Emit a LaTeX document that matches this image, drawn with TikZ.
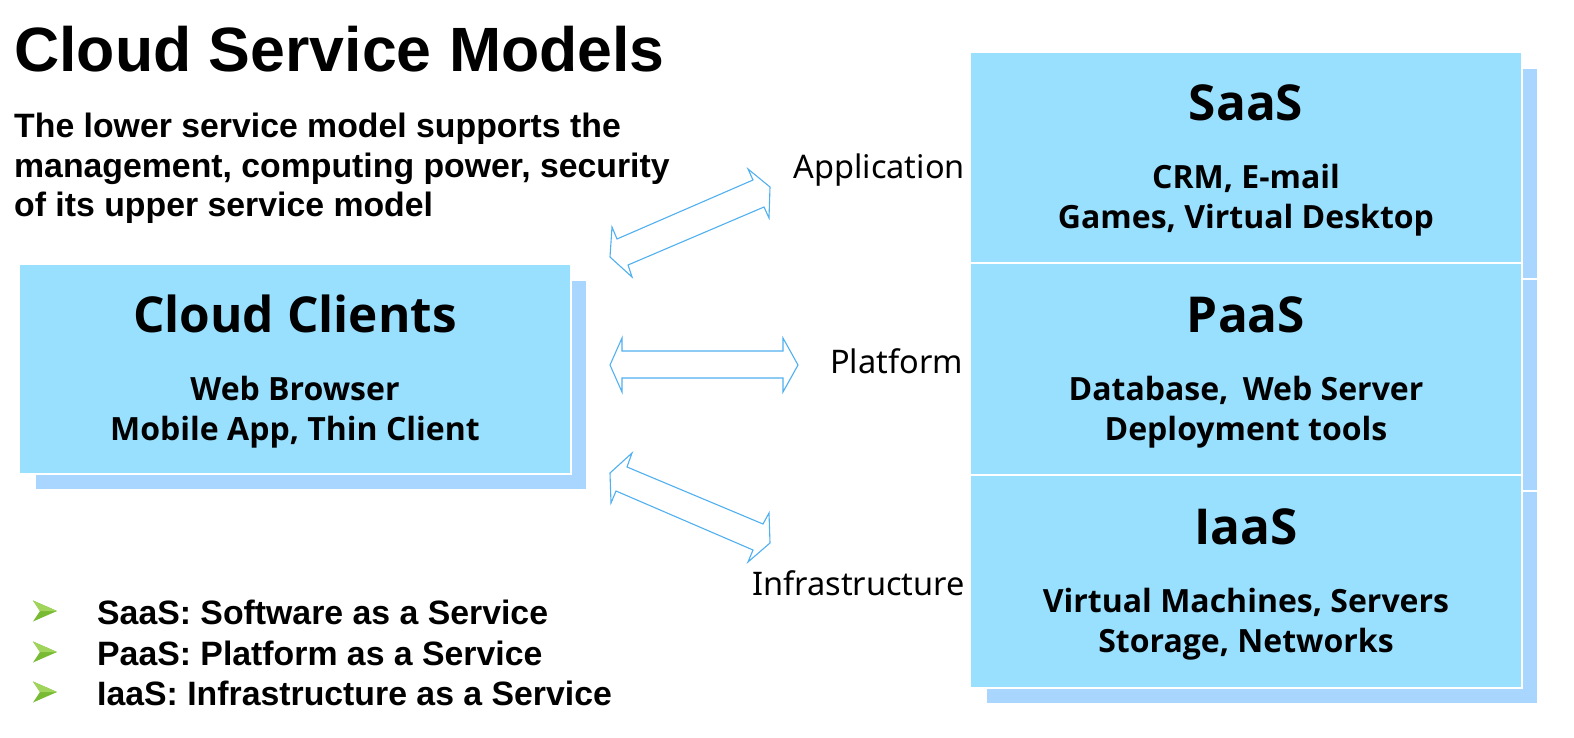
\documentclass[tikz,border=0pt]{standalone}
\usepackage{fontspec}
\setmainfont{Liberation Sans}
\newfontfamily\boxfont{Open Sans}
\newfontfamily\lblfont{Noto Sans}
\usetikzlibrary{shadows}
\definecolor{boxblue}{RGB}{153,224,255}
\definecolor{shadowblue}{RGB}{168,214,255}
\definecolor{arrowblue}{RGB}{80,176,240}
\definecolor{bulletgreen}{RGB}{120,186,50}
\definecolor{bulletlight}{RGB}{160,212,90}
\begin{document}
\begin{tikzpicture}[x=1pt,y=-1pt,
  box/.style={anchor=north west, fill=boxblue, draw=white, line width=1.2pt, inner sep=0pt, outer sep=0pt,
    drop shadow={shadow xshift=16pt, shadow yshift=-16pt, fill=shadowblue, draw=white, opacity=1}},
  boxtitle/.style={anchor=base, inner sep=0pt, font=\boxfont\bfseries\fontsize{49.5}{56}\selectfont},
  boxsub/.style={anchor=base, inner sep=0pt, font=\boxfont\bfseries\fontsize{32}{38}\selectfont},
  lbl/.style={anchor=base east, inner sep=0pt, font=\lblfont\fontsize{32.5}{38}\selectfont},
  subt/.style={anchor=base west, inner sep=0pt, font=\bfseries\fontsize{33.8}{40}\selectfont},
  dblarr/.style={draw=arrowblue, fill=white, line width=1.1pt, line join=miter},
  bul/.style={fill=bulletgreen, draw=none},
  bultop/.style={fill=bulletlight, draw=none}]
\useasboundingbox (0,0) rectangle (1574,738);

% title and subtitle
\node[anchor=base west, inner sep=0pt, font=\bfseries\fontsize{62.6}{70}\selectfont] (title) at (14,72) {Cloud Service Models};
\node[subt] (s1) at (14,138) {The lower service model supports the};
\node[subt] (s2) at (14,178) {management, computing power, security};
\node[subt] (s3) at (14,217) {of its upper service model};

% boxes
\node[box, minimum width=552pt, minimum height=210pt] (cc) at (19,264) {};
\node[box, minimum width=552pt, minimum height=211pt] (saas) at (970,52) {};
\node[box, minimum width=552pt, minimum height=212pt] (paas) at (970,263) {};
\node[box, minimum width=552pt, minimum height=213pt] (iaas) at (970,475) {};

\node[boxtitle] (cct) at (295,332) {Cloud Clients};
\node[boxsub] (cc1) at (295,400) {Web Browser};
\node[boxsub] (cc2) at (295,440) {Mobile App, Thin Client};

\node[boxtitle] (saast) at (1246,121) {SaaS};
\node[boxsub] (saas1) at (1246,189) {CRM, E-mail};
\node[boxsub] (saas2) at (1246,229) {Games, Virtual Desktop};

\node[boxtitle] (paast) at (1246,332) {PaaS};
\node[boxsub] (paas1) at (1246,400) {Database,\hspace{0.45em}Web Server};
\node[boxsub] (paas2) at (1246,440) {Deployment tools};

\node[boxtitle] (iaast) at (1246,544) {IaaS};
\node[boxsub] (iaas1) at (1246,612) {Virtual Machines, Servers};
\node[boxsub] (iaas2) at (1246,652) {Storage, Networks};

% labels
\node[lbl] (lapp) at (965,179) {Application};
\node[lbl] (lplat) at (963,373) {Platform};
\node[lbl] (linf) at (965,595) {Infrastructure};

% double arrows
\draw[dblarr] (610,257) -- (612,227) -- (617,239) -- (753,180) -- (748,169) -- (770,187)
  -- (769,218) -- (764,207) -- (628,265) -- (632,277) -- cycle;
\draw[dblarr] (610,365) -- (622,338) -- (622,351) -- (783,351) -- (783,338) -- (798,365)
  -- (783,392) -- (783,378) -- (622,378) -- (622,392) -- cycle;
\draw[dblarr] (610,473) -- (632,453) -- (627,467) -- (763,524) -- (769,513) -- (770,543)
  -- (748,562) -- (753,550) -- (616,491) -- (611,503) -- cycle;

% bullets
\foreach \y in {611,652,692}{
  \fill[bul] (33,\y-10.5) -- (57,\y) -- (33,\y+10.5) -- (40,\y) -- cycle;
  \fill[bultop] (33,\y-10.5) -- (57,\y) -- (40,\y) -- cycle;
}
\node[subt] (l1) at (97,624) {SaaS: Software as a Service};
\node[subt] (l2) at (97,665) {PaaS: Platform as a Service};
\node[subt] (l3) at (97,705) {IaaS: Infrastructure as a Service};
\end{tikzpicture}
\end{document}
